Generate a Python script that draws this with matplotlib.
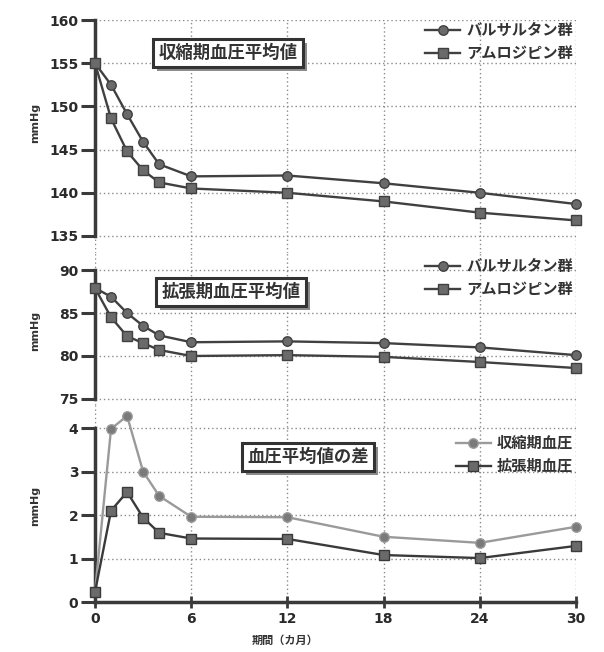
import matplotlib.pyplot as plt
import matplotlib.patheffects as pe

plt.rcParams['font.family'] = ['Noto Sans CJK JP', 'DejaVu Sans']

months = [0, 1, 2, 3, 4, 6, 12, 18, 24, 30]
sbp_valsartan = [155.0, 152.5, 149.1, 145.9, 143.3, 141.9, 142.0, 141.1, 140.0, 138.7]
sbp_amlodipine = [155.0, 148.6, 144.8, 142.6, 141.2, 140.5, 140.0, 139.0, 137.7, 136.8]
dbp_valsartan = [87.9, 86.9, 85.0, 83.5, 82.4, 81.6, 81.7, 81.5, 81.0, 80.1]
dbp_amlodipine = [87.9, 84.5, 82.3, 81.5, 80.7, 80.0, 80.1, 79.9, 79.3, 78.6]
diff_sbp = [0.23, 3.98, 4.28, 3.0, 2.44, 1.96, 1.95, 1.5, 1.36, 1.73]
diff_dbp = [0.23, 2.1, 2.53, 1.94, 1.59, 1.46, 1.45, 1.08, 1.01, 1.29]

x_ticks = [0, 6, 12, 18, 24, 30]
W, H = 604, 652
DARK = '#3a3a3a'


def px_axes(x0, x1, y0, y1):
    return fig.add_axes([x0 / W, 1 - y1 / H, (x1 - x0) / W, (y1 - y0) / H])


def style(ax, yticks, ylim, bounds, label_y, show_x=False):
    ax.set_xlim(0, 30)
    ax.set_ylim(*ylim)
    ax.set_xticks(x_ticks)
    ax.set_yticks(yticks)
    ax.grid(True, linestyle=(0, (1, 2)), color='#8a8a8a', linewidth=1)
    for s in ['top', 'right', 'bottom']:
        ax.spines[s].set_visible(False)
    ax.spines['left'].set_bounds(*bounds)
    ax.spines['left'].set_linewidth(2.5)
    ax.spines['left'].set_color(DARK)
    ax.tick_params(axis='y', length=10, width=2.2, color=DARK, pad=2,
                   labelsize=10, labelcolor='#2a2a2a')
    for t in ax.get_yticklabels():
        t.set_family(['DejaVu Sans'])
        t.set_fontweight('bold')
    if show_x:
        ax.spines['bottom'].set_visible(True)
        ax.spines['bottom'].set_linewidth(2.5)
        ax.spines['bottom'].set_color(DARK)
        ax.tick_params(axis='x', direction='inout', length=9, width=2,
                       color=DARK, labelsize=10, labelcolor='#2a2a2a', pad=3)
        for t in ax.get_xticklabels():
            t.set_family(['DejaVu Sans'])
            t.set_fontweight('bold')
    else:
        ax.tick_params(axis='x', length=0, labelbottom=False)
    ax.set_ylabel('mmHg', fontsize=8, fontweight='bold', color='#333',
                  family=['DejaVu Sans'])
    ax.yaxis.set_label_coords(-0.114, label_y)


def title_box(ax, x, y, text):
    t = ax.text(x / W, 1 - y / H, text, transform=fig.transFigure,
                ha='center', va='center', fontsize=12.5, fontweight='bold',
                color='#333',
                bbox=dict(boxstyle='square,pad=0.3', facecolor='white',
                          edgecolor='#333', linewidth=2.2), zorder=5)
    t.get_bbox_patch().set_path_effects([
        pe.SimplePatchShadow(offset=(3, -3), shadow_rgbFace='#8c8c8c', alpha=1),
        pe.Normal()])


def legend(ax, right, top):
    ax.legend(loc='upper right', bbox_to_anchor=(right / W, 1 - top / H),
              bbox_transform=fig.transFigure, frameon=False, borderpad=0,
              borderaxespad=0, handlelength=2.3, handletextpad=0.4,
              labelspacing=0.45, prop=dict(size=11, weight='bold'),
              labelcolor='#333')


def series(ax, y, marker, color, mcolor, label):
    ax.plot(months, y, color=color, linewidth=1.7, marker=marker,
            markersize=6.8, markerfacecolor=mcolor, markeredgecolor=color,
            markeredgewidth=1, label=label, clip_on=False, zorder=4)


fig = plt.figure(figsize=(W / 100, H / 100), dpi=100)

ax1 = px_axes(95, 576, 20, 253)
series(ax1, sbp_valsartan, 'o', '#404040', '#6a6a6a', 'バルサルタン群')
series(ax1, sbp_amlodipine, 's', '#404040', '#6a6a6a', 'アムロジピン群')
style(ax1, [135, 140, 145, 150, 155, 160], (133.03, 160), (135, 160), 0.56)
legend(ax1, 573, 22)
title_box(ax1, 228, 53, '収縮期血圧平均値')

ax2 = px_axes(95, 576, 253, 405)
series(ax2, dbp_valsartan, 'o', '#404040', '#6a6a6a', 'バルサルタン群')
series(ax2, dbp_amlodipine, 's', '#404040', '#6a6a6a', 'アムロジピン群')
style(ax2, [75, 80, 85, 90], (74.3, 91.98), (75, 90), 0.49)
legend(ax2, 573, 258)
title_box(ax2, 231, 292, '拡張期血圧平均値')

ax3 = px_axes(95, 576, 405, 602)
series(ax3, diff_sbp, 'o', '#9a9a9a', '#7a7a7a', '収縮期血圧')
series(ax3, diff_dbp, 's', '#3a3a3a', '#6a6a6a', '拡張期血圧')
style(ax3, [0, 1, 2, 3, 4], (0, 4.53), (0, 4), 0.49, show_x=True)
legend(ax3, 573, 435)
title_box(ax3, 308, 457, '血圧平均値の差')

fig.text(285 / W, 1 - 640 / H, '期間（カ月）', ha='center', va='center',
         fontsize=8, fontweight='bold', color='#333')

fig.savefig('out.png', dpi=100)
